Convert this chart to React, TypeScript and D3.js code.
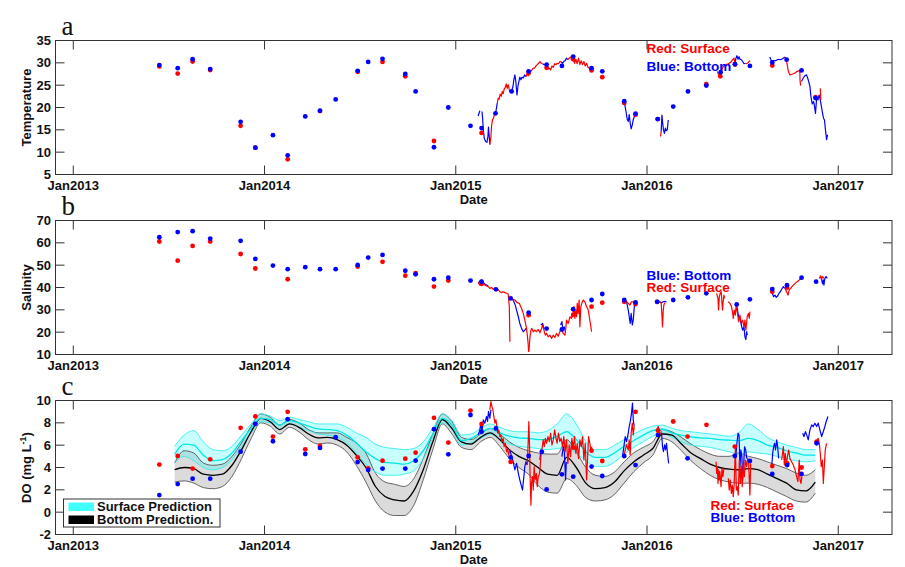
import React from 'react';
import * as d3 from 'd3';

type P = [number, number];

// ---------- axes ----------
const xDomain: [number, number] = [2012.907, 2017.281];
const xTickYears = [2013, 2014, 2015, 2016, 2017];
const xTickLabels = ['Jan2013', 'Jan2014', 'Jan2015', 'Jan2016', 'Jan2017'];
const tempTicks = [5, 10, 15, 20, 25, 30, 35];
const salTicks = [10, 20, 30, 40, 50, 60, 70];
const doTicks = [-2, 0, 2, 4, 6, 8, 10];

// ---------- panel a: temperature ----------
const tempSurfDots: P[] = [[2013.45,29.2],[2013.546,27.6],[2013.624,30.3],[2013.716,28.4],[2013.875,15.9],[2013.952,11.0],[2014.121,8.4],[2014.29,19.2],[2014.487,28.0],[2014.617,30.2],[2014.736,27.0],[2014.886,12.5],[2015.135,14.3],[2015.381,27.7],[2015.475,28.9],[2015.614,30.8],[2015.710,28.3],[2015.766,26.8],[2015.881,21.0],[2015.940,18.4],[2016.057,17.4],[2016.310,25.2],[2016.383,27.0],[2016.460,29.6],[2016.655,29.4],[2016.881,22.3]];
const tempBotDots: P[] = [[2013.45,29.5],[2013.546,28.8],[2013.624,30.8],[2013.716,28.6],[2013.875,16.8],[2013.952,11.0],[2014.044,13.8],[2014.121,9.3],[2014.213,18.0],[2014.29,19.3],[2014.372,21.8],[2014.487,28.2],[2014.542,30.2],[2014.617,30.9],[2014.736,27.5],[2014.79,23.6],[2014.886,11.1],[2014.961,20.0],[2015.077,15.9],[2015.135,15.4],[2015.208,18.7],[2015.292,23.6],[2015.381,28.1],[2015.475,29.6],[2015.555,29.3],[2015.614,31.4],[2015.710,28.8],[2015.766,28.1],[2015.881,21.4],[2015.940,18.6],[2016.055,17.4],[2016.137,20.2],[2016.214,23.6],[2016.310,24.9],[2016.385,27.9],[2016.460,29.7],[2016.538,29.3],[2016.655,30.1],[2016.730,30.7],[2016.808,28.3],[2016.881,22.1]];
const tempSurfLines: P[][] = [
  [[2015.178,11.7],[2015.184,13.5],[2015.187,15.8],[2015.192,17.3],[2015.198,17.6],[2015.203,18.9]],
  [[2015.217,21.0],[2015.222,22.1],[2015.227,21.9],[2015.232,23.0],[2015.238,22.5],[2015.243,23.6],[2015.248,23.1],[2015.253,24.1],[2015.259,24.5],[2015.264,25.3],[2015.269,24.3],[2015.274,25.1],[2015.280,24.0]],
  [[2015.367,26.9],[2015.374,27.7],[2015.379,27.1],[2015.384,27.8],[2015.391,28.1],[2015.398,28.4],[2015.405,28.8],[2015.412,28.8],[2015.419,29.3],[2015.426,29.6],[2015.433,29.9],[2015.440,30.3],[2015.447,29.9],[2015.454,29.8]],
  [[2015.475,29.2],[2015.482,28.6],[2015.489,28.8],[2015.496,28.4],[2015.503,29.3],[2015.510,29.0],[2015.517,29.8],[2015.524,29.6],[2015.530,29.9],[2015.537,29.8],[2015.544,30.3],[2015.551,30.2]],
  [[2015.586,30.7],[2015.593,31.05],[2015.600,31.3],[2015.607,30.7],[2015.614,31.05],[2015.621,29.9],[2015.628,30.8],[2015.635,29.8],[2015.642,31.05],[2015.649,29.6],[2015.656,30.5],[2015.663,29.6],[2015.670,30.3],[2015.677,29.3],[2015.684,29.9],[2015.691,29.0],[2015.698,28.8],[2015.705,28.3]],
  [[2016.071,13.5],[2016.074,14.6]],
  [[2016.368,28.1],[2016.378,26.8],[2016.385,27.7],[2016.390,28.4],[2016.399,29.2],[2016.408,29.2],[2016.413,29.6],[2016.425,29.8],[2016.437,30.1],[2016.448,30.7],[2016.455,31.05],[2016.460,29.9]],
  [[2016.514,29.9],[2016.521,29.8],[2016.530,30.1],[2016.538,30.5]],
  [[2016.721,31.3],[2016.730,30.3],[2016.739,28.1],[2016.747,27.3],[2016.761,27.5],[2016.773,27.7],[2016.786,28.1],[2016.799,28.3],[2016.800,26.2],[2016.803,24.9]],
  [[2016.906,24.3],[2016.909,21.7]],
];
const tempBotLines: P[][] = [
  [[2015.117,18.1],[2015.126,19.3]],
  [[2015.137,19.1],[2015.140,17.8],[2015.144,15.0],[2015.149,13.1],[2015.156,12.4],[2015.163,12.2],[2015.168,13.5],[2015.171,15.6],[2015.175,13.5],[2015.178,11.7]],
  [[2015.203,18.9],[2015.208,18.7],[2015.213,19.9],[2015.217,21.0]],
  [[2015.280,24.0],[2015.286,23.4],[2015.293,23.8],[2015.299,24.7],[2015.304,26.3],[2015.309,27.3],[2015.314,25.8],[2015.320,22.8],[2015.325,24.7],[2015.330,25.8],[2015.335,26.8],[2015.341,26.2],[2015.346,26.8],[2015.353,26.6],[2015.360,27.3],[2015.367,26.9]],
  [[2015.454,29.8],[2015.461,29.6],[2015.468,29.6],[2015.475,29.2]],
  [[2015.551,30.2],[2015.558,29.9],[2015.565,30.3],[2015.572,30.5],[2015.579,31.05],[2015.586,30.7]],
  [[2015.703,29.3],[2015.709,28.6],[2015.714,28.3]],
  [[2015.884,20.6],[2015.890,19.1],[2015.897,17.3],[2015.902,16.9],[2015.907,18.4],[2015.912,16.5],[2015.917,15.2],[2015.923,16.1],[2015.928,17.3],[2015.935,18.1]],
  [[2016.074,14.6],[2016.078,18.3],[2016.082,16.5],[2016.086,15.0],[2016.091,14.2],[2016.096,15.4],[2016.100,14.8],[2016.106,15.0],[2016.111,17.2]],
  [[2016.460,29.9],[2016.465,31.05],[2016.470,31.6],[2016.476,30.8],[2016.481,31.4],[2016.486,30.8],[2016.493,30.7],[2016.500,30.3],[2016.507,29.8],[2016.514,29.9]],
  [[2016.642,31.3],[2016.648,30.7],[2016.655,30.1],[2016.663,30.5],[2016.674,30.5],[2016.686,30.8],[2016.698,30.7],[2016.709,30.9],[2016.721,31.3]],
  [[2016.808,25.8],[2016.817,26.6],[2016.825,27.1],[2016.834,27.3],[2016.843,26.2],[2016.852,24.7],[2016.857,22.5],[2016.864,20.8],[2016.871,21.35],[2016.876,20.2],[2016.881,18.7],[2016.887,22.1],[2016.894,21.7],[2016.900,22.8],[2016.906,21.7],[2016.913,19.9],[2016.918,18.7],[2016.923,17.6],[2016.928,17.2],[2016.934,14.6],[2016.939,12.8],[2016.944,13.9]],
];

// ---------- panel b: salinity ----------
const salSurfDots: P[] = [[2013.45,60.6],[2013.546,52.0],[2013.624,58.6],[2013.716,60.6],[2013.875,55.0],[2013.952,48.5],[2014.121,43.7],[2014.487,49.4],[2014.617,51.5],[2014.736,45.3],[2014.79,46.4],[2014.886,40.4],[2014.961,43.1],[2015.135,41.6],[2015.381,27.6],[2015.614,27.7],[2015.710,31.4],[2015.766,33.2],[2015.881,33.6],[2015.940,32.6],[2016.053,33.6],[2016.655,38.1],[2016.732,39.9]];
const salBotDots: P[] = [[2013.45,62.5],[2013.546,64.8],[2013.624,65.2],[2013.716,61.9],[2013.875,60.9],[2013.952,52.8],[2014.044,49.8],[2014.121,48.2],[2014.213,49.1],[2014.29,48.2],[2014.372,48.2],[2014.487,50.1],[2014.542,53.4],[2014.617,54.6],[2014.736,47.5],[2014.79,45.9],[2014.886,43.7],[2014.961,44.4],[2015.077,43.1],[2015.135,42.6],[2015.210,39.2],[2015.287,35.1],[2015.381,28.7],[2015.475,21.6],[2015.555,21.2],[2015.614,30.3],[2015.710,34.4],[2015.766,37.1],[2015.881,34.4],[2015.940,33.3],[2016.053,33.6],[2016.137,34.4],[2016.214,35.6],[2016.310,37.4],[2016.469,32.4],[2016.538,34.7],[2016.655,39.3],[2016.732,41.0],[2016.808,44.4],[2016.884,42.6]];
const salSurfLines: P[][] = [
  [[2015.117,42.2],[2015.126,41.1],[2015.135,41.6],[2015.144,41.9],[2015.152,41.1],[2015.161,40.7],[2015.170,40.4],[2015.178,39.6],[2015.187,40.1],[2015.196,39.2],[2015.205,39.6],[2015.213,38.6],[2015.222,38.9],[2015.231,38.1],[2015.239,37.7],[2015.248,38.1],[2015.257,37.7],[2015.266,37.4],[2015.274,37.1],[2015.280,31.4],[2015.283,15.7]],
  [[2015.287,35.9],[2015.297,34.7],[2015.309,34.4],[2015.321,33.2],[2015.332,32.9],[2015.344,30.6],[2015.353,28.4],[2015.361,25.4],[2015.370,21.7],[2015.375,17.9],[2015.379,14.2],[2015.381,11.2]],
  [[2015.382,11.2],[2015.388,17.9],[2015.393,20.9],[2015.398,21.7],[2015.405,20.2],[2015.414,20.9],[2015.422,20.2],[2015.431,21.2],[2015.440,19.7],[2015.449,21.7],[2015.454,23.2],[2015.461,20.9],[2015.468,18.7],[2015.475,19.4],[2015.483,17.9],[2015.492,18.7],[2015.501,17.2],[2015.510,18.7],[2015.518,17.6],[2015.527,19.4],[2015.536,18.2],[2015.544,20.2],[2015.553,21.7],[2015.562,19.4],[2015.571,18.7],[2015.576,22.4],[2015.579,25.4],[2015.588,23.9],[2015.597,26.9],[2015.605,26.2],[2015.611,27.6],[2015.618,31.4],[2015.623,26.2],[2015.628,29.9],[2015.632,26.9],[2015.635,32.9],[2015.640,28.4],[2015.645,34.4],[2015.649,22.4],[2015.654,31.4],[2015.659,32.9],[2015.666,34.4],[2015.675,33.6],[2015.684,31.4],[2015.693,29.9],[2015.698,26.9],[2015.705,23.2],[2015.710,20.2]],
  [[2015.876,34.1],[2015.884,34.4],[2015.893,33.6],[2015.902,32.9],[2015.910,32.1],[2015.919,33.6],[2015.928,33.6],[2015.937,32.9]],
  [[2016.067,33.6],[2016.074,32.9],[2016.078,27.6],[2016.081,22.4],[2016.085,29.9],[2016.088,32.1],[2016.093,33.2]],
  [[2016.364,37.4],[2016.371,35.1],[2016.374,29.9],[2016.378,35.9],[2016.383,37.4],[2016.388,38.1],[2016.392,32.9],[2016.395,29.9],[2016.399,34.4],[2016.402,36.6],[2016.406,35.1]],
  [[2016.425,33.6],[2016.434,32.9],[2016.442,31.4],[2016.448,28.4],[2016.451,26.2],[2016.456,29.9],[2016.462,27.6],[2016.465,31.4],[2016.472,29.2],[2016.479,24.7],[2016.486,27.6],[2016.493,23.9],[2016.500,25.4],[2016.507,22.4],[2016.512,25.4],[2016.517,20.9],[2016.524,26.9],[2016.530,28.4],[2016.535,26.2],[2016.538,29.2]],
  [[2016.721,39.6],[2016.730,38.1],[2016.737,36.6],[2016.744,38.9],[2016.751,39.6],[2016.758,40.4],[2016.765,41.1],[2016.772,41.6],[2016.779,42.2],[2016.786,42.6],[2016.793,43.1],[2016.800,43.7],[2016.808,44.1]],
  [[2016.901,44.1],[2016.908,45.2],[2016.913,43.7],[2016.918,44.9],[2016.925,44.1]],
];
const salBotLines: P[][] = [
  [[2015.117,41.9],[2015.126,42.9],[2015.135,43.4],[2015.144,42.2],[2015.152,41.6],[2015.161,41.1],[2015.170,40.8]],
  [[2015.287,35.1],[2015.297,34.7],[2015.304,33.6],[2015.311,32.1],[2015.318,29.9],[2015.327,26.9],[2015.335,23.9],[2015.344,21.7],[2015.353,20.2],[2015.361,20.9],[2015.367,21.7]],
  [[2015.445,23.2],[2015.454,23.9],[2015.461,21.7]],
  [[2015.548,23.2],[2015.555,24.7],[2015.560,20.9],[2015.567,22.4],[2015.574,20.2]],
  [[2015.876,34.4],[2015.884,34.7],[2015.893,33.6],[2015.902,29.9],[2015.907,26.9],[2015.912,23.9],[2015.917,28.4],[2015.923,23.2],[2015.928,25.4],[2015.935,32.9]],
  [[2016.046,33.6],[2016.059,33.2],[2016.067,33.6],[2016.076,33.2],[2016.085,33.6],[2016.093,33.8],[2016.102,33.5]],
  [[2016.465,32.9],[2016.472,30.6],[2016.479,26.9],[2016.486,26.2],[2016.493,23.2],[2016.500,20.9],[2016.507,22.4],[2016.512,17.9],[2016.517,16.7],[2016.521,20.2],[2016.524,18.7]],
  [[2016.648,39.2],[2016.655,37.4],[2016.662,35.9],[2016.669,36.6],[2016.676,35.6],[2016.683,36.2],[2016.690,37.4],[2016.697,38.1],[2016.704,39.2],[2016.713,40.4],[2016.721,39.6]],
  [[2016.908,44.9],[2016.913,43.4],[2016.918,41.6],[2016.922,43.4],[2016.925,41.1],[2016.930,44.1],[2016.936,44.9],[2016.943,44.1]],
];

// ---------- panel c: dissolved oxygen ----------
const doSurfDots: P[] = [[2013.45,4.26],[2013.546,5.03],[2013.624,3.9],[2013.716,4.73],[2013.875,7.55],[2013.952,8.57],[2014.044,6.77],[2014.121,8.99],[2014.213,5.63],[2014.29,5.93],[2014.487,4.91],[2014.542,3.93],[2014.617,4.61],[2014.736,4.79],[2014.79,5.33],[2014.886,8.45],[2014.961,6.23],[2015.077,9.1],[2015.135,7.9],[2015.287,4.5],[2015.614,5.78],[2015.710,5.51],[2015.766,4.58],[2015.940,8.99],[2016.057,7.3],[2016.137,8.12],[2016.212,6.77],[2016.311,7.82],[2016.459,5.87],[2016.655,4.13],[2016.733,4.37],[2016.808,4.0],[2016.887,6.32]];
const doBotDots: P[] = [[2013.45,1.53],[2013.546,2.52],[2013.624,3.0],[2013.716,3.0],[2013.875,5.42],[2013.952,7.91],[2014.044,6.35],[2014.121,8.33],[2014.213,5.21],[2014.29,5.75],[2014.372,6.71],[2014.487,4.49],[2014.542,3.78],[2014.617,3.9],[2014.736,3.9],[2014.79,4.61],[2014.886,7.43],[2014.961,5.18],[2015.077,8.7],[2015.135,7.2],[2015.210,7.5],[2015.287,4.9],[2015.381,5.03],[2015.450,5.4],[2015.475,2.04],[2015.555,3.39],[2015.614,3.18],[2015.710,4.08],[2015.766,3.24],[2015.881,5.03],[2015.940,4.22],[2016.057,6.9],[2016.212,4.82],[2016.459,5.03],[2016.538,4.58],[2016.655,3.42],[2016.733,4.22],[2016.808,3.42],[2016.887,6.17]];
const doSurfLines: P[][] = [
  [[2015.178,9.17],[2015.184,9.91],[2015.189,9.47],[2015.194,9.17],[2015.199,8.57],[2015.205,7.97],[2015.210,8.27],[2015.215,7.67],[2015.220,7.07],[2015.225,7.37],[2015.231,6.77],[2015.236,6.92],[2015.241,6.32],[2015.248,6.62],[2015.253,5.87],[2015.259,6.17],[2015.266,5.42],[2015.271,5.72],[2015.276,5.12],[2015.283,5.57]],
  [[2015.374,4.23],[2015.379,6.47],[2015.382,8.12],[2015.386,5.87],[2015.389,2.88],[2015.393,0.63],[2015.396,2.58],[2015.401,3.18],[2015.405,1.98],[2015.410,4.07],[2015.415,2.88],[2015.421,3.48],[2015.426,2.28],[2015.431,3.18],[2015.436,3.33],[2015.440,3.78],[2015.445,4.97],[2015.450,5.57],[2015.457,6.47],[2015.463,5.87],[2015.468,6.62],[2015.475,6.17],[2015.482,6.77],[2015.489,6.32],[2015.496,7.07],[2015.503,6.02],[2015.510,6.47],[2015.517,7.37],[2015.524,6.62],[2015.530,6.17],[2015.537,7.07],[2015.544,6.32],[2015.551,6.62],[2015.558,5.87],[2015.565,6.77],[2015.572,5.42],[2015.579,6.47],[2015.586,4.37],[2015.593,6.02],[2015.600,4.97],[2015.607,6.62],[2015.614,5.72],[2015.621,6.77],[2015.628,5.27],[2015.635,6.17],[2015.642,4.82],[2015.649,6.47],[2015.656,5.87],[2015.663,6.77],[2015.670,4.67],[2015.677,6.17],[2015.684,2.88],[2015.689,4.67],[2015.694,6.77],[2015.701,6.17],[2015.706,5.57],[2015.712,5.87]],
  [[2015.876,4.82],[2015.884,5.42],[2015.893,6.02],[2015.902,5.57],[2015.907,6.47],[2015.912,5.12],[2015.917,7.07],[2015.923,7.97],[2015.928,6.92],[2015.933,7.67]],
  [[2016.050,7.37],[2016.059,7.67],[2016.067,6.92],[2016.076,7.22]],
  [[2016.361,4.52],[2016.364,3.48],[2016.368,4.07],[2016.371,2.58],[2016.374,3.78],[2016.378,2.88],[2016.381,3.63],[2016.387,2.28],[2016.392,3.93],[2016.397,3.18],[2016.402,3.93]],
  [[2016.425,3.03],[2016.430,1.98],[2016.435,2.88],[2016.441,1.68],[2016.446,2.43],[2016.451,1.38],[2016.456,2.58],[2016.462,5.87],[2016.467,1.98],[2016.472,2.28],[2016.477,1.53],[2016.483,4.67],[2016.488,2.58],[2016.493,4.07],[2016.498,2.28],[2016.503,4.37],[2016.509,3.18],[2016.514,4.67],[2016.521,4.07],[2016.526,4.82],[2016.531,4.52],[2016.538,1.53],[2016.542,4.37]],
  [[2016.704,4.67],[2016.713,5.87],[2016.718,4.22],[2016.723,5.27],[2016.729,4.07],[2016.734,4.97],[2016.741,5.57],[2016.747,4.82],[2016.756,4.52],[2016.765,4.22],[2016.774,3.78],[2016.782,3.18],[2016.789,2.73],[2016.796,4.67],[2016.800,2.88],[2016.805,2.58],[2016.810,3.18]],
  [[2016.887,6.32],[2016.895,6.62],[2016.901,6.17],[2016.906,5.27],[2016.911,4.07],[2016.917,4.67],[2016.922,2.58],[2016.927,4.07],[2016.932,5.57],[2016.939,6.17]],
];
const doBotLines: P[][] = [
  [[2015.117,6.92],[2015.126,7.37],[2015.131,7.97],[2015.137,7.22],[2015.144,8.27],[2015.152,7.97],[2015.161,8.57],[2015.166,8.12],[2015.171,9.02],[2015.178,8.42],[2015.184,9.17]],
  [[2015.283,5.57],[2015.292,4.97],[2015.300,4.52],[2015.309,3.78],[2015.318,4.37],[2015.327,3.48],[2015.335,2.88],[2015.344,2.28],[2015.349,1.98],[2015.356,3.18],[2015.361,4.07],[2015.367,4.52],[2015.374,4.23]],
  [[2015.440,4.67],[2015.445,5.57],[2015.450,5.27]],
  [[2015.555,4.97],[2015.562,5.87],[2015.568,5.42],[2015.574,2.88],[2015.578,4.5]],
  [[2015.872,4.97],[2015.879,5.87],[2015.886,6.77],[2015.893,6.32],[2015.902,7.07],[2015.907,7.67],[2015.914,8.27],[2015.919,8.87],[2015.924,9.77],[2015.928,8.27],[2015.933,7.67]],
  [[2016.076,7.07],[2016.081,5.87],[2016.086,5.42],[2016.092,6.02],[2016.097,5.57],[2016.102,6.17],[2016.107,5.27],[2016.113,4.37]],
  [[2016.465,5.12],[2016.470,6.17],[2016.476,7.07],[2016.481,6.92],[2016.486,4.07],[2016.491,5.57],[2016.496,4.97],[2016.500,2.88],[2016.505,4.07],[2016.510,5.87],[2016.516,5.57],[2016.521,4.82]],
  [[2016.652,4.07],[2016.657,5.27],[2016.662,5.87],[2016.667,6.17],[2016.672,5.57],[2016.678,6.47],[2016.683,5.87],[2016.688,4.82]],
  [[2016.814,7.07],[2016.821,6.77],[2016.828,7.22],[2016.835,6.92],[2016.843,6.47],[2016.852,7.37],[2016.861,7.82],[2016.869,7.67],[2016.878,7.97],[2016.887,7.67],[2016.895,7.97],[2016.904,7.37],[2016.913,6.77],[2016.922,7.22],[2016.930,7.67],[2016.937,8.12],[2016.946,8.57]],
];

// model prediction (decimal-year sample times)
const predT = [2013.53,2013.58,2013.63,2013.68,2013.73,2013.78,2013.83,2013.88,2013.93,2013.98,2014.03,2014.08,2014.13,2014.18,2014.23,2014.28,2014.33,2014.38,2014.43,2014.48,2014.53,2014.58,2014.63,2014.68,2014.73,2014.78,2014.83,2014.88,2014.93,2014.98,2015.03,2015.08,2015.13,2015.18,2015.23,2015.28,2015.33,2015.38,2015.43,2015.48,2015.53,2015.58,2015.63,2015.68,2015.73,2015.78,2015.83,2015.88,2015.93,2015.98,2016.03,2016.08,2016.13,2016.18,2016.23,2016.28,2016.33,2016.38,2016.43,2016.48,2016.53,2016.58,2016.63,2016.68,2016.73,2016.78,2016.83,2016.88];
const surfPredMean = [5.2,6.1,6.0,5.1,4.6,4.7,5.3,6.4,7.5,8.4, 8.3,7.8,8.2,8.0,7.7,7.45,7.4,7.3,6.9,6.2, 5.4,4.8,4.45,4.4,4.3,4.6,5.5,7.0,8.4,7.8, 6.4,6.6,7.1,7.5,7.1,6.8,6.65,6.6,6.5,6.5, 6.8,7.2,6.5,5.4,4.9,4.9,5.3,5.9,6.4,6.9, 7.3,7.45,7.1,6.9,6.75,6.65,6.6,6.5,6.45,6.4, 6.6,6.4,6.0,5.8,5.5,5.3,5.1,5.1];
const surfPredHi = [5.9,6.9,7.3,6.3,5.6,5.5,5.9,6.9,7.9,8.8, 8.6,8.2,8.5,8.3,8.1,7.9,7.9,7.9,7.6,7.1, 6.7,6.1,5.8,5.7,5.6,5.7,6.3,7.5,8.8,8.2, 6.9,7.0,7.5,7.9,7.6,7.3,7.2,7.2,7.1,7.3, 7.9,8.8,7.9,6.3,5.6,5.6,6.0,6.5,7.0,7.4, 7.7,7.8,7.5,7.3,7.2,7.1,7.0,6.9,6.8,7.1, 7.9,7.4,6.7,6.3,6.0,5.8,5.6,5.6];
const surfPredLo = [4.4,5.0,4.6,4.0,3.8,4.0,4.7,5.9,7.1,8.1, 8.0,7.4,7.9,7.6,7.3,7.0,6.9,6.7,6.2,5.3, 4.3,3.6,3.3,3.3,3.4,3.7,4.8,6.6,8.0,7.4, 6.0,6.2,6.6,7.0,6.5,6.1,5.9,5.8,5.7,5.6, 5.7,5.8,5.3,4.6,4.1,4.1,4.5,5.2,5.8,6.3, 6.8,7.1,6.7,6.3,6.0,5.9,5.8,5.6,5.4,5.2, 5.4,5.3,5.2,5.0,4.8,4.6,4.5,4.6];
const botPredMean = [3.8,4.0,3.9,3.4,3.3,3.4,4.2,5.6,7.2,8.4, 8.1,7.4,7.9,7.6,7.0,6.65,6.7,6.5,6.0,5.1, 4.0,2.3,1.4,1.1,1.0,1.9,3.8,6.3,8.3,7.5, 6.3,6.1,6.7,7.1,6.5,5.6,5.0,4.6,4.0,3.4, 3.3,4.9,4.0,2.6,2.1,2.2,2.7,3.7,4.5,5.1, 5.7,7.0,6.9,6.1,5.3,4.8,4.3,4.0,3.85,3.8, 3.9,3.8,3.4,3.0,2.6,2.0,1.9,2.7];
const botPredHi = [4.4,5.5,5.3,4.4,4.2,4.3,5.0,6.2,7.7,8.8, 8.5,7.8,8.3,8.0,7.4,7.1,7.1,7.1,6.7,6.2, 5.3,3.5,2.7,2.5,2.3,3.0,4.8,7.0,8.8,8.1, 6.7,6.5,7.0,7.5,7.0,6.3,5.8,5.5,5.3,5.2, 5.2,6.5,5.4,4.0,3.3,3.2,3.6,4.5,5.3,5.8, 6.3,7.4,7.2,6.7,6.1,5.6,5.2,5.0,5.0,5.3, 5.0,4.8,4.5,4.2,3.9,3.5,3.3,3.8];
const botPredLo = [2.7,2.8,2.6,2.2,2.1,2.3,3.2,4.8,6.6,8.0, 7.7,7.0,7.6,7.2,6.5,6.1,6.2,6.0,5.4,4.2, 2.7,1.0,0.0,-0.3,-0.3,0.6,2.9,5.6,7.9,7.0, 5.8,5.6,6.3,6.7,5.9,4.8,4.0,3.4,2.4,1.8, 1.7,3.0,2.4,1.3,1.0,1.1,1.6,2.6,3.6,4.4, 5.1,6.6,6.3,5.5,4.6,3.9,3.3,2.9,2.7,2.6, 2.6,2.5,2.2,1.8,1.4,1.0,0.9,1.7];

// ---------- layout ----------
const W = 905, H = 567;
const L = 55.5, R = 892;
const PH = 134;
const FONT = "'Liberation Sans', Arial, Helvetica, sans-serif";
const SERIF = "'Liberation Serif', 'Times New Roman', serif";
const RED = '#ff0000';
const BLUE = '#0000ff';

const x = d3.scaleLinear().domain(xDomain).range([L, R]);

type PanelProps = {
  id: string;
  top: number;
  yDomain: [number, number];
  yTicks: number[];
  letter: string;
  yLabel: React.ReactNode;
  surfDots: P[];
  botDots: P[];
  surfLines: P[][];
  botLines: P[][];
  under?: (y: d3.ScaleLinear<number, number>) => React.ReactNode;
  over?: React.ReactNode;
};

function Panel(p: PanelProps) {
  const y = d3.scaleLinear().domain(p.yDomain).range([p.top + PH, p.top]);
  const line = d3.line<P>().x(d => x(d[0])).y(d => y(d[1]));
  const tl = 9;
  const bottom = p.top + PH;
  return (
    <g>
      <defs>
        <clipPath id={`clip-${p.id}`}>
          <rect x={L} y={p.top} width={R - L} height={PH} />
        </clipPath>
      </defs>
      <rect x={L} y={p.top} width={R - L} height={PH} fill="#fff" />
      <g clipPath={`url(#clip-${p.id})`}>
        {p.under ? p.under(y) : null}
        {p.botLines.map((s, i) => (
          <path key={'b' + i} d={line(s) || ''} fill="none" stroke={BLUE} strokeWidth={1.2} strokeLinejoin="round" />
        ))}
        {p.surfLines.map((s, i) => (
          <path key={'s' + i} d={line(s) || ''} fill="none" stroke={RED} strokeWidth={1.2} strokeLinejoin="round" />
        ))}
        {p.surfDots.map((d, i) => (
          <circle key={'sd' + i} cx={x(d[0])} cy={y(d[1])} r={2.4} fill={RED} />
        ))}
        {p.botDots.map((d, i) => (
          <circle key={'bd' + i} cx={x(d[0])} cy={y(d[1])} r={2.4} fill={BLUE} />
        ))}
      </g>
      <rect x={L} y={p.top} width={R - L} height={PH} fill="none" stroke="#333" strokeWidth={1} />
      {xTickYears.map((t, i) => (
        <g key={'xt' + i}>
          <line x1={x(t)} x2={x(t)} y1={bottom} y2={bottom - tl} stroke="#333" strokeWidth={1} />
          <line x1={x(t)} x2={x(t)} y1={p.top} y2={p.top + tl} stroke="#333" strokeWidth={1} />
          <text x={x(t)} y={bottom + 15} textAnchor="middle" fontFamily={FONT} fontWeight="bold" fontSize={13} fill="#111">
            {xTickLabels[i]}
          </text>
        </g>
      ))}
      {p.yTicks.map((v, i) => (
        <g key={'yt' + i}>
          <line x1={L} x2={L + tl} y1={y(v)} y2={y(v)} stroke="#333" strokeWidth={1} />
          <line x1={R} x2={R - tl} y1={y(v)} y2={y(v)} stroke="#333" strokeWidth={1} />
          <text x={L - 4.5} y={y(v) + 4.6} textAnchor="end" fontFamily={FONT} fontWeight="bold" fontSize={13} fill="#111">
            {v}
          </text>
        </g>
      ))}
      <text x={(L + R) / 2} y={bottom + 29} textAnchor="middle" fontFamily={FONT} fontWeight="bold" fontSize={13} fill="#111">
        Date
      </text>
      <text transform={`translate(31,${p.top + PH / 2}) rotate(-90)`} textAnchor="middle" fontFamily={FONT} fontWeight="bold" fontSize={13} fill="#111">
        {p.yLabel}
      </text>
      <text x={L + 6} y={p.top - 5.5} fontFamily={SERIF} fontSize={27} fill="#111">
        {p.letter}
      </text>
      {p.over}
    </g>
  );
}

function PredictionBands(y: d3.ScaleLinear<number, number>) {
  const idx = predT.map((_, i) => i);
  const curve = d3.curveMonotoneX;
  const band = (lo: number[], hi: number[]) =>
    d3.area<number>().x(i => x(predT[i])).y0(i => y(lo[i])).y1(i => y(hi[i])).curve(curve)(idx) || '';
  const ln = (v: number[]) => d3.line<number>().x(i => x(predT[i])).y(i => y(v[i])).curve(curve)(idx) || '';
  return (
    <g>
      <path d={band(botPredLo, botPredHi)} fill="#000" fillOpacity={0.14} stroke="none" />
      <path d={band(surfPredLo, surfPredHi)} fill="#00ffff" fillOpacity={0.22} stroke="none" />
      <path d={ln(botPredHi)} fill="none" stroke="#555" strokeWidth={0.9} />
      <path d={ln(botPredLo)} fill="none" stroke="#555" strokeWidth={0.9} />
      <path d={ln(surfPredHi)} fill="none" stroke="#33eeee" strokeWidth={0.9} />
      <path d={ln(surfPredLo)} fill="none" stroke="#33eeee" strokeWidth={0.9} />
      <path d={ln(botPredMean)} fill="none" stroke="#000" strokeWidth={1.3} />
      <path d={ln(surfPredMean)} fill="none" stroke="#00e6e6" strokeWidth={1.3} />
    </g>
  );
}

const annStyle = { fontFamily: FONT, fontWeight: 'bold' as const, fontSize: 13.5 };
const legStyle = { fontFamily: FONT, fontWeight: 'bold' as const, fontSize: 13 };

export default function App() {
  const tops = [40.5, 220.5, 400.5];
  return (
    <svg width={W} height={H} viewBox={`0 0 ${W} ${H}`} style={{ position: 'absolute', left: 0, top: 0, display: 'block', background: '#fff' }}>
      <rect x={0} y={0} width={W} height={H} fill="#fff" />
      <Panel
        id="a" top={tops[0]} yDomain={[5, 35]} yTicks={tempTicks} letter="a" yLabel="Temperature"
        surfDots={tempSurfDots} botDots={tempBotDots} surfLines={tempSurfLines} botLines={tempBotLines}
        over={
          <g>
            <text x={646.5} y={53} fill={RED} {...annStyle}>Red: Surface</text>
            <text x={646.5} y={71} fill={BLUE} {...annStyle}>Blue: Bottom</text>
          </g>
        }
      />
      <Panel
        id="b" top={tops[1]} yDomain={[10, 70]} yTicks={salTicks} letter="b" yLabel="Salinity"
        surfDots={salSurfDots} botDots={salBotDots} surfLines={salSurfLines} botLines={salBotLines}
        over={
          <g>
            <text x={646.5} y={279.5} fill={BLUE} {...annStyle}>Blue: Bottom</text>
            <text x={646.5} y={292} fill={RED} {...annStyle}>Red: Surface</text>
          </g>
        }
      />
      <Panel
        id="c" top={tops[2]} yDomain={[-2, 10]} yTicks={doTicks} letter="c"
        yLabel={<>DO (mg L<tspan dy={-5} fontSize={9}>-1</tspan><tspan dy={5}>)</tspan></>}
        surfDots={doSurfDots} botDots={doBotDots} surfLines={doSurfLines} botLines={doBotLines}
        under={PredictionBands}
        over={
          <g>
            <text x={710.5} y={509.5} fill={RED} {...annStyle}>Red: Surface</text>
            <text x={710.5} y={521.5} fill={BLUE} {...annStyle}>Blue: Bottom</text>
            <rect x={63.5} y={499} width={156.5} height={28} fill="#fff" stroke="#333" strokeWidth={1} />
            <rect x={68.5} y={502.5} width={25.5} height={8.5} fill="#40ffff" />
            <rect x={68.5} y={515.5} width={25.5} height={8.5} fill="#000" />
            <text x={97} y={510.5} fill="#111" {...legStyle}>Surface Prediction</text>
            <text x={97} y={523.5} fill="#111" {...legStyle}>Bottom Prediction.</text>
          </g>
        }
      />
    </svg>
  );
}
